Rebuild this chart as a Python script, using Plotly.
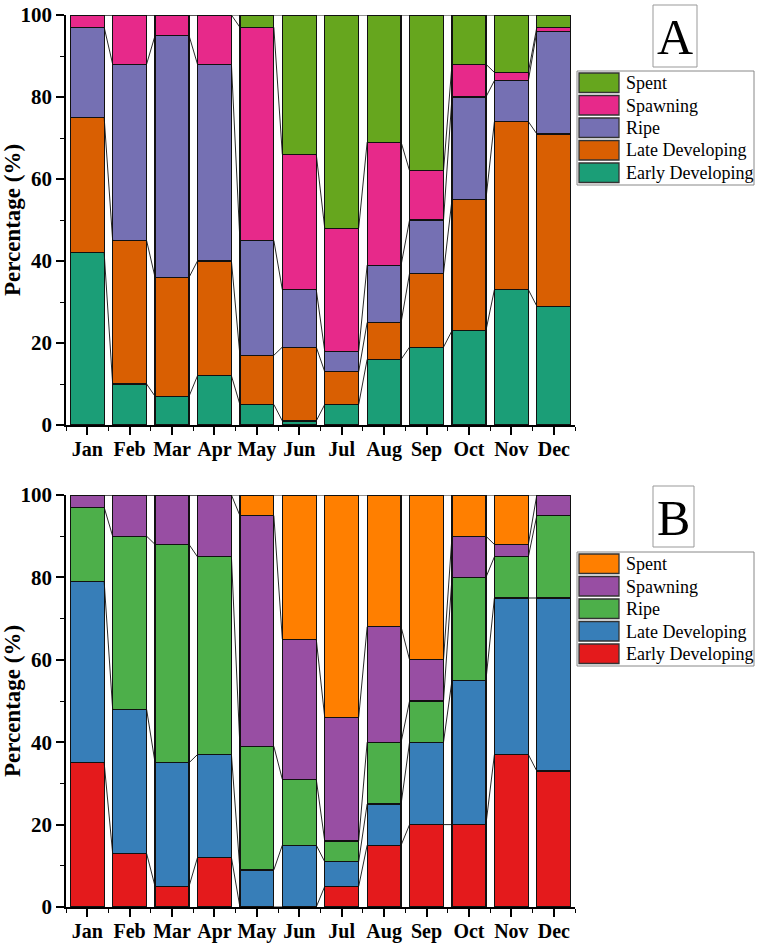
import plotly.graph_objects as go

W, H = 762, 945

months = ["Jan", "Feb", "Mar", "Apr", "May", "Jun", "Jul", "Aug", "Sep", "Oct", "Nov", "Dec"]
stages = ["Early Developing", "Late Developing", "Ripe", "Spawning", "Spent"]

# panel A (% of each stage per month)
a_early = [42, 10, 7, 12, 5, 1, 5, 16, 19, 23, 33, 29]
a_late = [33, 35, 29, 28, 12, 18, 8, 9, 18, 32, 41, 42]
a_ripe = [22, 43, 59, 48, 28, 14, 5, 14, 13, 25, 10, 25]
a_spawn = [3, 12, 5, 12, 52, 33, 30, 30, 12, 8, 2, 1]
a_spent = [0, 0, 0, 0, 3, 34, 52, 31, 38, 12, 14, 3]

# panel B
b_early = [35, 13, 5, 12, 0, 0, 5, 15, 20, 20, 37, 33]
b_late = [44, 35, 30, 25, 9, 15, 6, 10, 20, 35, 38, 42]
b_ripe = [18, 42, 53, 48, 30, 16, 5, 15, 10, 25, 10, 20]
b_spawn = [3, 10, 12, 15, 56, 34, 30, 28, 10, 10, 3, 5]
b_spent = [0, 0, 0, 0, 5, 35, 54, 32, 40, 10, 12, 0]

colors_a = ["#1b9e77", "#d95f02", "#7570b3", "#e7298a", "#66a61e"]
colors_b = ["#e41a1c", "#377eb8", "#4daf4a", "#984ea3", "#ff7f00"]

FONT = "Liberation Serif, Times New Roman, serif"
BW = 0.8
x = list(range(len(months)))

fig = go.Figure()


def px_x(p):
    return p / W


def px_y(p):
    return 1 - p / H


def add_panel(series, colors, xa, ya):
    # stacked bars
    for name, vals, col in zip(stages, series, colors):
        fig.add_trace(go.Bar(
            x=x, y=vals, name=name, width=BW,
            marker=dict(color=col, line=dict(color="#111", width=1.2)),
            xaxis=xa, yaxis=ya, showlegend=False))
    # connecting lines between stack levels
    cum = [0] * len(months)
    lx, ly = [], []
    for vals in series:
        cum = [c + v for c, v in zip(cum, vals)]
        for i in range(len(months) - 1):
            lx += [i + BW / 2, i + 1 - BW / 2, None]
            ly += [cum[i], cum[i + 1], None]
    fig.add_trace(go.Scatter(
        x=lx, y=ly, mode="lines", line=dict(color="#111", width=0.9),
        xaxis=xa, yaxis=ya, showlegend=False, hoverinfo="skip", cliponaxis=False))


def add_legend(colors, top, letter, letter_box):
    # letter box
    x0, y0, x1, y1 = letter_box
    fig.add_shape(type="rect", xref="paper", yref="paper",
                  x0=px_x(x0), x1=px_x(x1), y0=px_y(y1), y1=px_y(y0),
                  line=dict(color="#999", width=1))
    fig.add_annotation(x=px_x((x0 + x1) / 2), y=px_y((y0 + y1) / 2 + 1),
                       xref="paper", yref="paper", text=letter, showarrow=False,
                       xanchor="center", yanchor="middle",
                       font=dict(family=FONT, size=50, color="black"))
    # legend frame
    fig.add_shape(type="rect", xref="paper", yref="paper",
                  x0=px_x(577), x1=px_x(754), y0=px_y(top + 114), y1=px_y(top),
                  line=dict(color="#888", width=1))
    for k, (name, col) in enumerate(reversed(list(zip(stages, colors)))):
        ry = top + 2 + k * 22.5
        fig.add_shape(type="rect", xref="paper", yref="paper",
                      x0=px_x(579), x1=px_x(619), y0=px_y(ry + 19.5), y1=px_y(ry),
                      fillcolor=col, line=dict(color="#333", width=1.3))
        fig.add_annotation(x=px_x(624), y=px_y(ry + 10), xref="paper", yref="paper",
                           text=name, showarrow=False, xanchor="left", yanchor="middle",
                           font=dict(family=FONT, size=18, color="black"))


add_panel([a_early, a_late, a_ripe, a_spawn, a_spent], colors_a, "x", "y")
add_panel([b_early, b_late, b_ripe, b_spawn, b_spent], colors_b, "x2", "y2")
add_legend(colors_a, 71, "A", (653, 5, 697, 67))
add_legend(colors_b, 552, "B", (653, 486, 694, 547))

xaxis_common = dict(
    range=[-0.5, 11.5], tickmode="array", tickvals=x, ticktext=months,
    showline=True, linecolor="black", linewidth=1.5, showgrid=False, zeroline=False,
    ticks="outside", ticklen=8, tickwidth=1.5, tickcolor="black", ticklabelstandoff=-3,
    minor=dict(tickmode="array", tickvals=[i - 0.5 for i in range(len(months) + 1)],
               ticks="outside", ticklen=4, tickwidth=1.2, tickcolor="black"),
    tickfont=dict(family=FONT, size=20, color="black", weight="bold"),
    automargin=False, fixedrange=True,
)
yaxis_common = dict(
    range=[0, 100], tickmode="linear", tick0=0, dtick=20,
    showline=True, linecolor="black", linewidth=1.5, showgrid=False, zeroline=False,
    ticks="outside", ticklen=8, tickwidth=1.5, tickcolor="black",
    minor=dict(dtick=10, ticks="outside", ticklen=4, tickwidth=1.2, tickcolor="black"),
    tickfont=dict(family=FONT, size=21, color="black", weight="bold"),
    title=dict(text="Percentage (%)", standoff=8,
               font=dict(family=FONT, size=23, color="black", weight="bold")),
    automargin=False, fixedrange=True,
)

fig.update_layout(
    template="none",
    width=W, height=H,
    margin=dict(l=0, r=0, t=0, b=0),
    barmode="stack",
    bargap=0.2,
    paper_bgcolor="white",
    plot_bgcolor="white",
    showlegend=False,
    xaxis=dict(xaxis_common, domain=[px_x(66), px_x(575)], anchor="y"),
    yaxis=dict(yaxis_common, domain=[px_y(425), px_y(15)], anchor="x"),
    xaxis2=dict(xaxis_common, domain=[px_x(66), px_x(575)], anchor="y2"),
    yaxis2=dict(yaxis_common, domain=[px_y(907), px_y(495)], anchor="x2"),
)

fig.write_html("out.html", config={"displayModeBar": False},
               post_script="document.body.style.margin='0';")
